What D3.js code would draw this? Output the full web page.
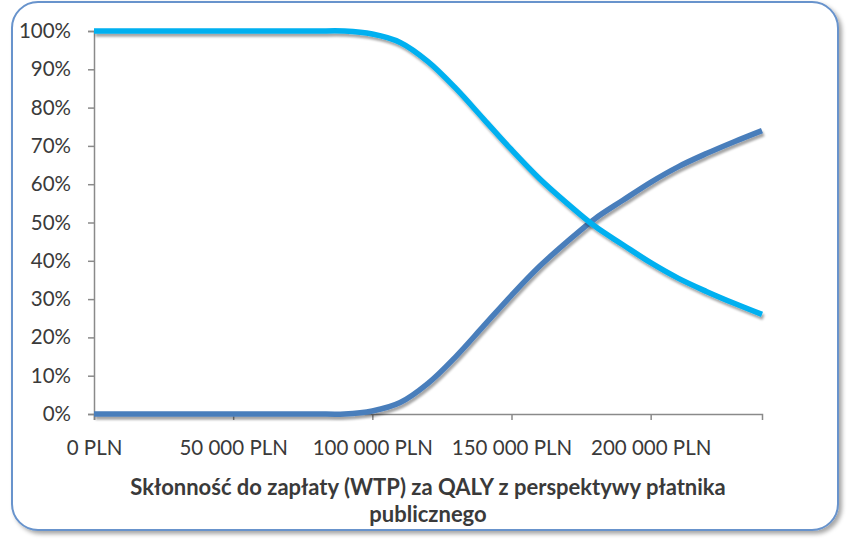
<!DOCTYPE html>
<html>
<head>
<meta charset="utf-8">
<script src="https://cdn.jsdelivr.net/npm/d3@7/dist/d3.min.js"></script>
<style>
  html, body { margin: 0; padding: 0; background: #ffffff; }
  svg { display: block; }
  text { font-family: Lato, "Open Sans", "Liberation Sans", sans-serif; fill: #3a3a3a; }
</style>
</head>
<body>
<svg id="chart" width="867" height="540"></svg>
<script>
// ---- data ----
const wtp = [0, 10000, 20000, 30000, 40000, 50000, 60000, 70000, 80000, 90000,
             100000, 110000, 120000, 130000, 140000, 150000, 160000, 170000, 180000,
             190000, 200000, 210000, 220000, 230000, 240000];
const seriesDeclining = [1, 1, 1, 1, 1, 1, 1, 1, 1, 1,
                         0.992, 0.97, 0.92, 0.85, 0.77, 0.69, 0.615, 0.55, 0.49,
                         0.442, 0.395, 0.354, 0.32, 0.289, 0.26];
const seriesRising = [0, 0, 0, 0, 0, 0, 0, 0, 0, 0,
                      0.008, 0.03, 0.08, 0.15, 0.23, 0.31, 0.385, 0.45, 0.51,
                      0.558, 0.605, 0.646, 0.68, 0.711, 0.74];
const xTicks = [0, 50000, 100000, 150000, 200000];
const yTicks = [0, 0.1, 0.2, 0.3, 0.4, 0.5, 0.6, 0.7, 0.8, 0.9, 1.0];
const titleLines = ["Skłonność do zapłaty (WTP) za QALY z perspektywy płatnika", "publicznego"];

// ---- layout ----
const svg = d3.select("#chart");
const defs = svg.append("defs");
const sh = defs.append("filter").attr("id", "lineShadow")
  .attr("x", "-10%").attr("y", "-10%").attr("width", "120%").attr("height", "130%");
sh.append("feDropShadow").attr("dx", 1.5).attr("dy", 3).attr("stdDeviation", 1.3)
  .attr("flood-color", "#000").attr("flood-opacity", 0.35);
const fsh = defs.append("filter").attr("id", "frameShadow")
  .attr("x", "-5%").attr("y", "-5%").attr("width", "110%").attr("height", "110%");
fsh.append("feDropShadow").attr("dx", 3).attr("dy", 3).attr("stdDeviation", 2)
  .attr("flood-color", "#000").attr("flood-opacity", 0.35);

// frame
svg.append("rect")
  .attr("x", 12).attr("y", 2).attr("width", 826).attr("height", 528)
  .attr("rx", 26).attr("ry", 26)
  .attr("fill", "#ffffff").attr("stroke", "#6793cc").attr("stroke-width", 2)
  .attr("filter", "url(#frameShadow)");

const x = d3.scaleLinear().domain([0, 240000]).range([94, 762]);
const y = d3.scaleLinear().domain([0, 1]).range([414, 31]);

const fmtPLN = v => d3.format(",")(v).replace(/,/g, " ") + " PLN";

// y axis
const yAxis = svg.append("g").attr("transform", "translate(94,0)")
  .call(d3.axisLeft(y).tickValues(yTicks).tickFormat(d3.format(".0%")).tickSize(6).tickPadding(17));
yAxis.select(".domain").attr("stroke", "#8a8a8a").attr("stroke-width", 1.5);
yAxis.selectAll(".tick line").attr("stroke", "#8a8a8a").attr("stroke-width", 1.5);
yAxis.selectAll(".tick text").attr("font-size", 20.5).attr("fill", "#3a3a3a")
  .style("font-family", "Lato, 'Open Sans', sans-serif");

// x axis
const xAxis = svg.append("g").attr("transform", "translate(0,414)")
  .call(d3.axisBottom(x).tickValues(xTicks).tickFormat(fmtPLN).tickSize(6).tickPadding(20));
xAxis.select(".domain").attr("stroke", "#8a8a8a").attr("stroke-width", 1.5);
xAxis.selectAll(".tick line").attr("stroke", "#8a8a8a").attr("stroke-width", 1.5);
xAxis.selectAll(".tick text").attr("font-size", 20.5).attr("fill", "#3a3a3a")
  .style("font-family", "Lato, 'Open Sans', sans-serif");

// lines
const line = d3.line().x((d, i) => x(wtp[i])).y(d => y(d)).curve(d3.curveCatmullRom.alpha(0.5));
svg.append("path").datum(seriesRising)
  .attr("d", line).attr("fill", "none").attr("stroke", "#4a7ebb")
  .attr("stroke-width", 5.5).attr("stroke-linecap", "butt").attr("filter", "url(#lineShadow)");
svg.append("path").datum(seriesDeclining)
  .attr("d", line).attr("fill", "none").attr("stroke", "#00b0f0")
  .attr("stroke-width", 5.5).attr("stroke-linecap", "butt").attr("filter", "url(#lineShadow)");

// title
svg.selectAll("text.title").data(titleLines).enter().append("text")
  .attr("class", "title")
  .attr("x", 428).attr("y", (d, i) => 495 + i * 27)
  .attr("text-anchor", "middle")
  .attr("font-size", 22).attr("font-weight", "bold").attr("fill", "#1a1a1a")
  .text(d => d);
</script>
</body>
</html>
